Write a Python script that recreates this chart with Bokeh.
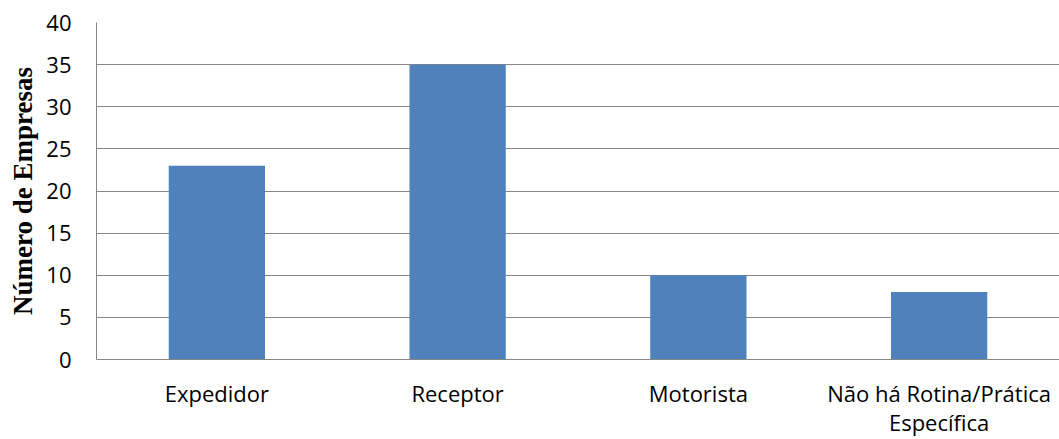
from bokeh.plotting import figure
from bokeh.models import Range1d, FixedTicker, LinearAxis
from bokeh.embed import file_html
from bokeh.resources import INLINE

# Who carries out the routine, and how many companies answered each option
categories = ["Expedidor", "Receptor", "Motorista", "Não há Rotina/Prática Específica"]
empresas = [23, 35, 10, 8]
y_ticks = [0, 5, 10, 15, 20, 25, 30, 35, 40]

BAR_COLOR = "#4F81BD"
GRID_COLOR = "#868686"
LABEL_FONT = "Open Sans"

# one unit-wide slot per category, bar centred in its slot
slots = [i + 0.5 for i in range(len(categories))]

p = figure(
    x_range=Range1d(0, len(categories)),
    y_range=Range1d(0, 40),
    width=1059,
    height=439,
    output_backend="svg",
    toolbar_location=None,
    min_border_left=96,
    min_border_right=0,
    min_border_top=22,
    min_border_bottom=80,
)
p.outline_line_color = None
p.background_fill_color = "white"
p.border_fill_color = "white"

p.vbar(x=slots, top=empresas, width=0.4, fill_color=BAR_COLOR, line_color=None)


def no_ticks(ax):
    ax.major_tick_line_color = None
    ax.minor_tick_line_color = None
    ax.major_tick_in = 0
    ax.major_tick_out = 0
    ax.minor_tick_in = 0
    ax.minor_tick_out = 0


# y axis
p.yaxis.ticker = FixedTicker(ticks=y_ticks)
p.yaxis.axis_label = "Número de Empresas"
p.yaxis.axis_label_text_font = "Liberation Serif"
p.yaxis.axis_label_text_font_style = "bold"
p.yaxis.axis_label_text_font_size = "27px"
p.yaxis.axis_label_text_color = "black"
p.yaxis.axis_label_standoff = 5
p.yaxis.major_label_text_font = LABEL_FONT
p.yaxis.major_label_text_font_size = "22px"
p.yaxis.major_label_text_color = "black"
p.yaxis.major_label_standoff = 25
p.yaxis.axis_line_color = GRID_COLOR
no_ticks(p.yaxis[0])

# category labels; the long last one wraps, its second word on a line below
first_lines = {}
second_lines = {}
for x, name in zip(slots, categories):
    if len(name) > 20:
        head, tail = name.rsplit(" ", 1)
        first_lines[x] = head
        second_lines[x] = tail
    else:
        first_lines[x] = name


def style_category_axis(ax, standoff):
    ax.major_label_text_font = LABEL_FONT
    ax.major_label_text_font_size = "22px"
    ax.major_label_text_color = "black"
    ax.major_label_text_line_height = 1.0
    ax.major_label_standoff = standoff
    no_ticks(ax)


xaxis = p.xaxis[0]
xaxis.ticker = FixedTicker(ticks=slots)
xaxis.major_label_overrides = first_lines
xaxis.axis_line_color = GRID_COLOR
style_category_axis(xaxis, 18)

wrap_axis = LinearAxis(ticker=FixedTicker(ticks=list(second_lines)),
                       major_label_overrides=second_lines)
wrap_axis.axis_line_color = None
style_category_axis(wrap_axis, -4)
p.add_layout(wrap_axis, "below")

p.xgrid.grid_line_color = None
p.ygrid.grid_line_color = GRID_COLOR
p.ygrid.grid_line_width = 1.2

open("out.html", "w").write(file_html(p, INLINE))
